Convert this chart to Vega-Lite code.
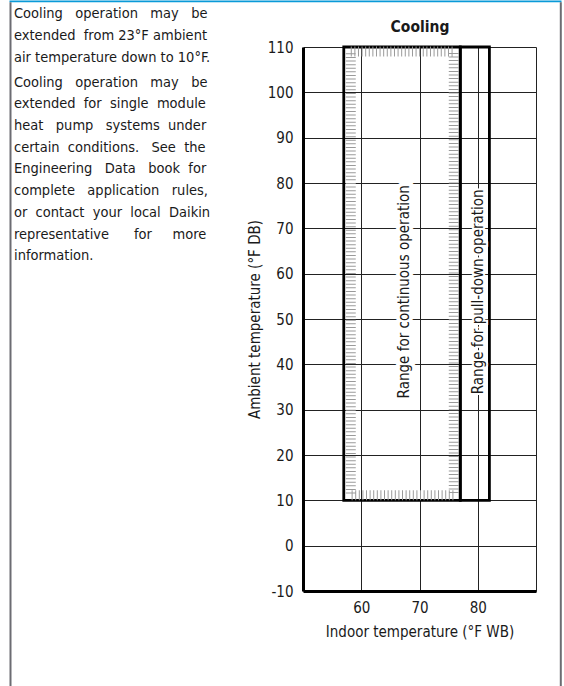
{
  "$schema": "https://vega.github.io/schema/vega-lite/v6.json",
  "autosize": "none",
  "width": 233,
  "height": 544,
  "padding": {"left": 303, "top": 47, "right": 28, "bottom": 95},
  "background": "#ffffff",
  "title": {
    "text": [
      "Cooling\u00a0\u00a0\u00a0operation\u00a0\u00a0\u00a0may\u00a0\u00a0\u00a0be",
      "extended\u00a0\u00a0from 23°F ambient",
      "air temperature down to 10°F."
    ],
    "subtitle": [
      "Cooling\u00a0\u00a0\u00a0operation\u00a0\u00a0\u00a0may\u00a0\u00a0\u00a0be",
      "extended\u00a0\u00a0for\u00a0\u00a0single\u00a0\u00a0module",
      "heat\u00a0\u00a0\u00a0pump\u00a0\u00a0\u00a0systems\u00a0\u00a0under",
      "certain\u00a0\u00a0conditions.\u00a0\u00a0\u00a0See\u00a0\u00a0the",
      "Engineering\u00a0\u00a0\u00a0Data\u00a0\u00a0\u00a0book\u00a0\u00a0for",
      "complete\u00a0\u00a0\u00a0application\u00a0\u00a0\u00a0rules,",
      "or\u00a0\u00a0contact\u00a0\u00a0your\u00a0\u00a0local\u00a0\u00a0Daikin",
      "representative\u00a0\u00a0\u00a0\u00a0\u00a0\u00a0for\u00a0\u00a0\u00a0\u00a0\u00a0more",
      "information."
    ],
    "anchor": "start",
    "frame": "group",
    "orient": "top",
    "offset": 0,
    "dx": -289,
    "dy": 263,
    "font": "DejaVu Sans Condensed",
    "fontSize": 14.5,
    "fontWeight": "normal",
    "color": "#1a1a1a",
    "lineHeight": 21.7,
    "subtitleFont": "DejaVu Sans Condensed",
    "subtitleFontSize": 14.5,
    "subtitleColor": "#1a1a1a",
    "subtitleLineHeight": 21.7,
    "subtitlePadding": 10.5
  },
  "datasets": {
    "ranges": [
      {"mode": "continuous", "wb_min": 57, "wb_max": 77, "db_min": 10, "db_max": 110},
      {"mode": "pull-down", "wb_min": 77, "wb_max": 82, "db_min": 10, "db_max": 110}
    ],
    "labels": [
      {"mode": "continuous", "text": "Range for continuous operation", "wb": 67.3, "db": 56},
      {"mode": "pull-down", "text": "Range for pull-down operation", "wb": 80, "db": 56}
    ]
  },
  "resolve": {"scale": {"x": "independent", "y": "independent"}},
  "layer": [
    {
      "data": {"name": "ranges"},
      "mark": {"type": "rect", "filled": false, "stroke": "#000000", "strokeWidth": 2.8},
      "encoding": {
        "x": {
          "field": "wb_min",
          "type": "quantitative",
          "scale": {"domain": [50, 90], "nice": false, "zero": false},
          "axis": {
            "orient": "bottom",
            "values": [60, 70, 80, 90],
            "labelExpr": "datum.value == 90 ? '' : datum.label",
            "title": "Indoor temperature (°F WB)",
            "grid": true,
            "ticks": false,
            "labelPadding": 9
          }
        },
        "x2": {"field": "wb_max"},
        "y": {
          "field": "db_min",
          "type": "quantitative",
          "scale": {"domain": [-10, 110], "nice": false, "zero": false},
          "axis": {
            "orient": "left",
            "values": [-10, 0, 10, 20, 30, 40, 50, 60, 70, 80, 90, 100, 110],
            "labelExpr": "toString(datum.value)",
            "title": "Ambient temperature (°F DB)",
            "grid": true,
            "ticks": false,
            "labelPadding": 10,
            "titlePadding": 5
          }
        },
        "y2": {"field": "db_max"}
      }
    },
    {
      "data": {"name": "ranges"},
      "transform": [{"filter": "datum.mode === 'continuous'"}],
      "mark": {
        "type": "rect",
        "filled": false,
        "stroke": "#9a9a9a",
        "strokeWidth": 10,
        "strokeDash": [1, 2.6],
        "xOffset": 7,
        "x2Offset": -6.5,
        "yOffset": -5,
        "y2Offset": 4.5
      },
      "encoding": {
        "x": {"field": "wb_min", "type": "quantitative", "scale": {"domain": [50, 90], "nice": false, "zero": false}, "axis": null},
        "x2": {"field": "wb_max"},
        "y": {"field": "db_min", "type": "quantitative", "scale": {"domain": [-10, 110], "nice": false, "zero": false}, "axis": null},
        "y2": {"field": "db_max"}
      }
    },
    {
      "data": {"name": "labels"},
      "mark": {
        "type": "text",
        "angle": 270,
        "align": "center",
        "baseline": "middle",
        "font": "DejaVu Sans Condensed",
        "fontSize": 15,
        "fill": "#ffffff",
        "stroke": "#ffffff"
      },
      "encoding": {
        "x": {"field": "wb", "type": "quantitative", "scale": {"domain": [50, 90], "nice": false, "zero": false}, "axis": null},
        "y": {"field": "db", "type": "quantitative", "scale": {"domain": [-10, 110], "nice": false, "zero": false}, "axis": null},
        "text": {"field": "text"},
        "strokeWidth": {"condition": {"test": "datum.mode === 'continuous'", "value": 8}, "value": 4}
      }
    },
    {
      "data": {"name": "labels"},
      "mark": {
        "type": "text",
        "angle": 270,
        "align": "center",
        "baseline": "middle",
        "font": "DejaVu Sans Condensed",
        "fontSize": 15,
        "color": "#1a1a1a"
      },
      "encoding": {
        "x": {
          "field": "wb",
          "type": "quantitative",
          "scale": {"domain": [50, 90], "nice": false, "zero": false},
          "axis": {
            "orient": "top",
            "title": "Cooling",
            "labels": false,
            "ticks": false,
            "domain": false,
            "grid": false,
            "titleFontWeight": "bold",
            "titleFontSize": 15.5,
            "titlePadding": 13
          }
        },
        "y": {"field": "db", "type": "quantitative", "scale": {"domain": [-10, 110], "nice": false, "zero": false}, "axis": null},
        "text": {"field": "text"}
      }
    },
    {
      "data": {"values": [{}]},
      "mark": {"type": "point", "opacity": 0},
      "encoding": {
        "x": {
          "datum": 0,
          "type": "quantitative",
          "scale": {"domain": [0, 1], "range": [-294, 258]},
          "axis": {"orient": "top", "offset": 46.2, "title": null, "labels": false, "ticks": false, "grid": false, "domainColor": "#0a9ad8", "domainWidth": 1.8}
        },
        "y": {
          "datum": 0,
          "type": "quantitative",
          "scale": {"domain": [0, 1], "range": [640, -45.3]},
          "axis": {"orient": "left", "offset": 293, "title": null, "labels": false, "ticks": false, "grid": false, "domainColor": "#6c6c72", "domainWidth": 2}
        }
      }
    },
    {
      "data": {"values": [{}]},
      "mark": {"type": "point", "opacity": 0},
      "encoding": {
        "y": {
          "datum": 0,
          "type": "quantitative",
          "scale": {"domain": [0, 1], "range": [640, -45.3]},
          "axis": {"orient": "right", "offset": 24.3, "title": null, "labels": false, "ticks": false, "grid": false, "domainColor": "#6c6c72", "domainWidth": 2}
        }
      }
    }
  ],
  "config": {
    "view": {"stroke": null},
    "axis": {
      "domainColor": "#000000",
      "domainWidth": 3,
      "gridColor": "#222222",
      "gridWidth": 1,
      "gridOpacity": 1,
      "labelFont": "DejaVu Sans Condensed",
      "labelFontSize": 15,
      "labelColor": "#1a1a1a",
      "titleFont": "DejaVu Sans Condensed",
      "titleFontSize": 15,
      "titleFontWeight": "normal",
      "titleColor": "#1a1a1a",
      "titlePadding": 9
    }
  }
}
